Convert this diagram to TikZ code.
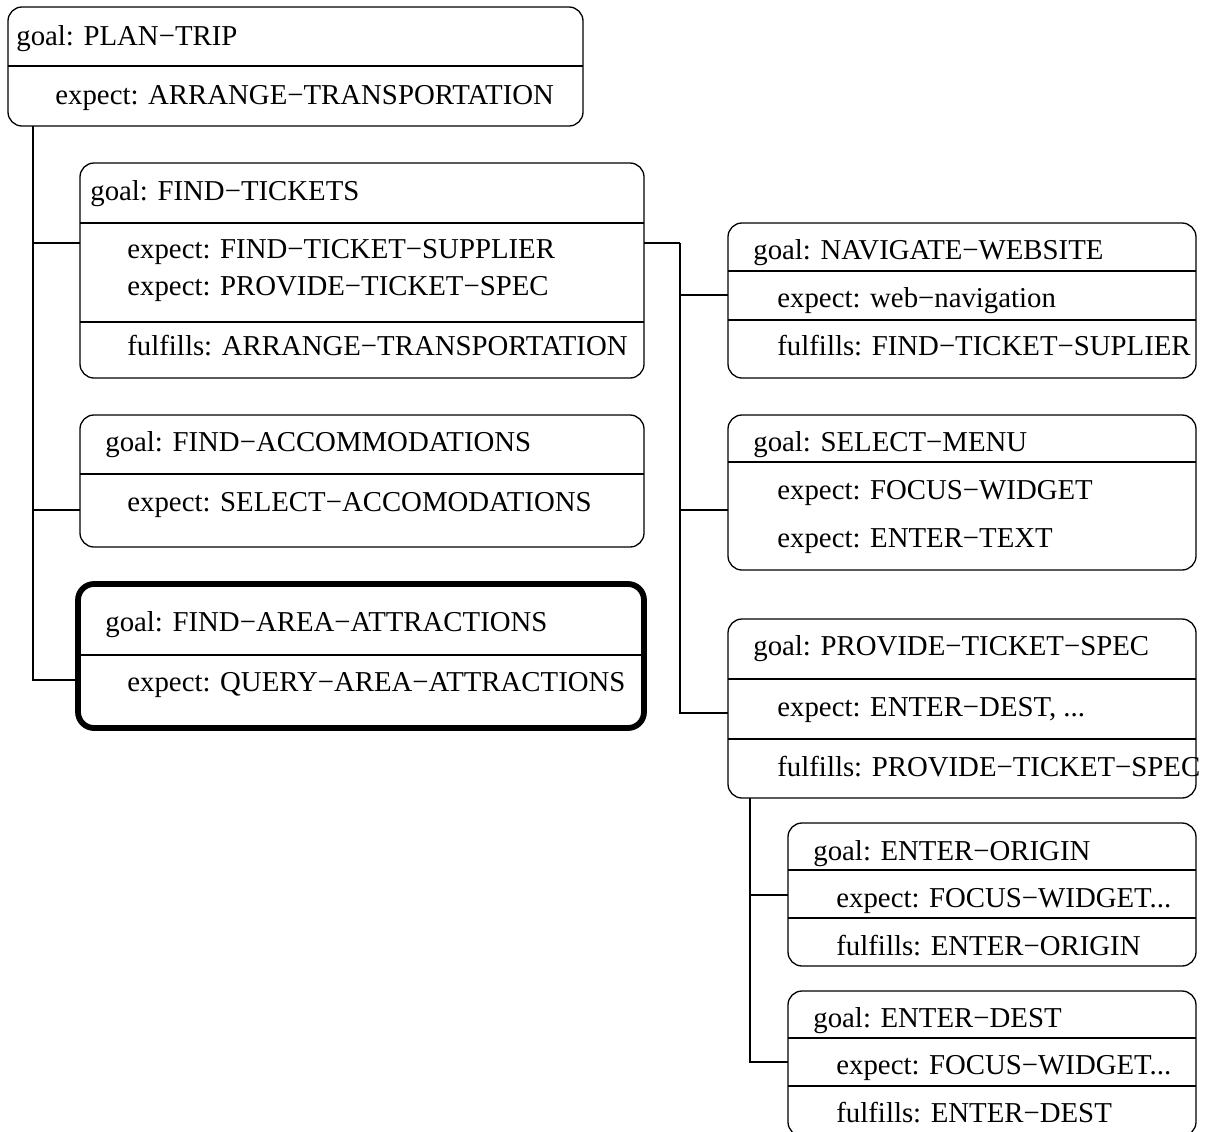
\documentclass[tikz,border=0pt]{standalone}
\usepackage{fontspec}
\setmainfont{Liberation Serif}
\usetikzlibrary{fit}
\begin{document}
\begin{tikzpicture}[x=0.5pt,y=-0.5pt,
    box/.style={draw,rounded corners=7pt,inner sep=0pt,outer sep=0pt,line width=0.65pt},
    focus/.style={box,rounded corners=8pt,line width=2.9pt},
    sep/.style={line width=0.65pt},
    link/.style={line width=0.65pt},
    txt/.style={anchor=base west,inner sep=0pt,font=\fontsize{14.4}{17}\selectfont}]
    \useasboundingbox (0,0) rectangle (1206,1131);

        % top goal
    \node[box,fit={(8,7) (583,126)}] (plan) {};
    \draw[sep] (plan.west |- 0,66) -- (plan.east |- 0,66);
    \node[txt] (plan-g) at (16,45)  {goal: PLAN−TRIP};
    \node[txt] (plan-e) at (55,104) {expect: ARRANGE−TRANSPORTATION};

        % left column
    \node[box,fit={(80,163) (644,378)}] (tickets) {};
    \draw[sep] (tickets.west |- 0,223) -- (tickets.east |- 0,223);
    \draw[sep] (tickets.west |- 0,322) -- (tickets.east |- 0,322);
    \node[txt] (tickets-g)  at (90,200)  {goal: FIND−TICKETS};
    \node[txt] (tickets-e1) at (127,258) {expect: FIND−TICKET−SUPPLIER};
    \node[txt] (tickets-e2) at (127,295) {expect: PROVIDE−TICKET−SPEC};
    \node[txt] (tickets-f)  at (127,355) {fulfills: ARRANGE−TRANSPORTATION};

    \node[box,fit={(80,415) (644,547)}] (accom) {};
    \draw[sep] (accom.west |- 0,474) -- (accom.east |- 0,474);
    \node[txt] (accom-g) at (105,451) {goal: FIND−ACCOMMODATIONS};
    \node[txt] (accom-e) at (127,511) {expect: SELECT−ACCOMODATIONS};

    \node[focus,fit={(78,584) (644,728)}] (area) {};
    \draw[sep] (area.west |- 0,655) -- (area.east |- 0,655);
    \node[txt] (area-g) at (105,631) {goal: FIND−AREA−ATTRACTIONS};
    \node[txt] (area-e) at (127,691) {expect: QUERY−AREA−ATTRACTIONS};

        % right column
    \node[box,fit={(728,223) (1196,378)}] (nav) {};
    \draw[sep] (nav.west |- 0,271) -- (nav.east |- 0,271);
    \draw[sep] (nav.west |- 0,320) -- (nav.east |- 0,320);
    \node[txt] (nav-g) at (753,259) {goal: NAVIGATE−WEBSITE};
    \node[txt] (nav-e) at (777,307) {expect: web−navigation};
    \node[txt] (nav-f) at (777,355) {fulfills: FIND−TICKET−SUPLIER};

    \node[box,fit={(728,415) (1196,570)}] (menu) {};
    \draw[sep] (menu.west |- 0,462) -- (menu.east |- 0,462);
    \node[txt] (menu-g)  at (753,451) {goal: SELECT−MENU};
    \node[txt] (menu-e1) at (777,499) {expect: FOCUS−WIDGET};
    \node[txt] (menu-e2) at (777,547) {expect: ENTER−TEXT};

    \node[box,fit={(728,619) (1196,798)}] (spec) {};
    \draw[sep] (spec.west |- 0,679) -- (spec.east |- 0,679);
    \draw[sep] (spec.west |- 0,739) -- (spec.east |- 0,739);
    \node[txt] (spec-g) at (753,655) {goal: PROVIDE−TICKET−SPEC};
    \node[txt] (spec-e) at (777,716) {expect: ENTER−DEST, ...};
    \node[txt] (spec-f) at (777,776) {fulfills: PROVIDE−TICKET−SPEC};

        % sub goals of the ticket spec
    \node[box,fit={(788,823) (1196,966)}] (origin) {};
    \draw[sep] (origin.west |- 0,870) -- (origin.east |- 0,870);
    \draw[sep] (origin.west |- 0,918) -- (origin.east |- 0,918);
    \node[txt] (origin-g) at (813,860) {goal: ENTER−ORIGIN};
    \node[txt] (origin-e) at (836,907) {expect: FOCUS−WIDGET...};
    \node[txt] (origin-f) at (836,955) {fulfills: ENTER−ORIGIN};

    \node[box,fit={(788,991) (1196,1136)}] (dest) {};
    \draw[sep] (dest.west |- 0,1038) -- (dest.east |- 0,1038);
    \draw[sep] (dest.west |- 0,1086) -- (dest.east |- 0,1086);
    \node[txt] (dest-g) at (813,1027) {goal: ENTER−DEST};
    \node[txt] (dest-e) at (836,1074) {expect: FOCUS−WIDGET...};
    \node[txt] (dest-f) at (836,1122) {fulfills: ENTER−DEST};

        % tree lines
    \coordinate (trunk) at (33,126);
    \draw[link] (trunk) |- (tickets.west |- 0,243);
    \draw[link] (trunk) |- (accom.west |- 0,510);
    \draw[link] (trunk) |- (area.west |- 0,680);

    \coordinate (fork) at (680,243);
    \draw[link] (tickets.east |- fork) -- (fork);
    \draw[link] (fork) |- (nav.west |- 0,295);
    \draw[link] (fork) |- (menu.west |- 0,510);
    \draw[link] (fork) |- (spec.west |- 0,713);

    \coordinate (stem) at (750,798);
    \draw[link] (stem) |- (origin.west |- 0,895);
    \draw[link] (stem) |- (dest.west |- 0,1062);
\end{tikzpicture}
\end{document}
